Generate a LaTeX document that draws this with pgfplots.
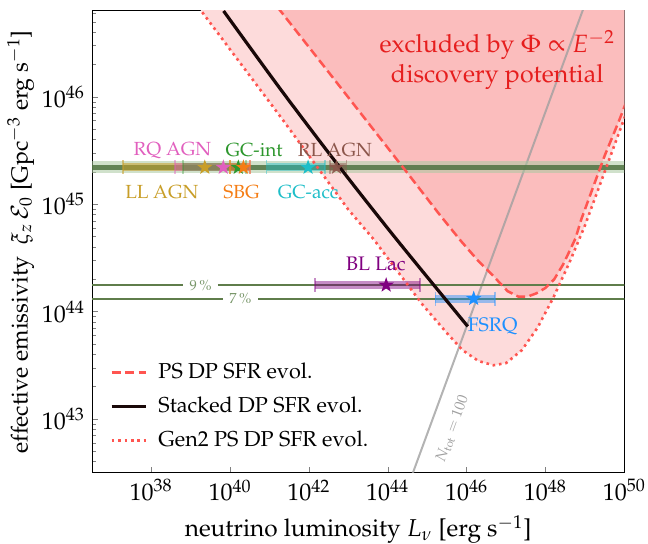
\documentclass[border=0pt]{standalone}
\usepackage[T1]{fontenc}
\usepackage{mathpazo}
\usepackage{pgfplots}
\pgfplotsset{compat=1.18}
\definecolor{dpred}{RGB}{255,85,80}
\definecolor{lightfill}{RGB}{253,219,219}
\definecolor{darkfill}{RGB}{251,189,189}
\definecolor{txtred}{RGB}{230,30,30}
\definecolor{bandgreen}{RGB}{80,115,65}
\definecolor{bandlight}{RGB}{170,200,160}
\definecolor{linegreen}{RGB}{95,125,75}
\definecolor{pcttext}{RGB}{120,150,105}
\definecolor{llagn}{RGB}{200,158,40}
\definecolor{rqagn}{RGB}{225,95,190}
\definecolor{gcint}{RGB}{44,150,44}
\definecolor{sbg}{RGB}{245,125,20}
\definecolor{gcacc}{RGB}{30,190,200}
\definecolor{rlagn}{RGB}{140,86,75}
\definecolor{bllac}{RGB}{128,0,128}
\definecolor{fsrq}{RGB}{30,144,255}
\definecolor{stackblack}{RGB}{25,8,8}
\definecolor{ntotgray}{RGB}{160,160,160}
\pgfdeclareplotmark{fstar}{%
 \pgfpathmoveto{\pgfpointpolar{90}{\pgfplotmarksize}}%
 \pgfpathlineto{\pgfpointpolar{126}{0.4\pgfplotmarksize}}%
 \pgfpathlineto{\pgfpointpolar{162}{\pgfplotmarksize}}%
 \pgfpathlineto{\pgfpointpolar{198}{0.4\pgfplotmarksize}}%
 \pgfpathlineto{\pgfpointpolar{234}{\pgfplotmarksize}}%
 \pgfpathlineto{\pgfpointpolar{270}{0.4\pgfplotmarksize}}%
 \pgfpathlineto{\pgfpointpolar{306}{\pgfplotmarksize}}%
 \pgfpathlineto{\pgfpointpolar{342}{0.4\pgfplotmarksize}}%
 \pgfpathlineto{\pgfpointpolar{18}{\pgfplotmarksize}}%
 \pgfpathlineto{\pgfpointpolar{54}{0.4\pgfplotmarksize}}%
 \pgfpathclose\pgfusepathqfill}
\begin{document}
\begin{tikzpicture}
\useasboundingbox (-46pt,-35.65pt) rectangle (278pt,236.35pt);
\begin{axis}[
 at={(0,0)}, anchor=south west,
 scale only axis, width=266.15pt, height=230.85pt,
 xmode=log, ymode=log,
 xmin=3.162e36, xmax=1e50, ymin=3.162e42, ymax=6.310e46,
 xtick={1e38,1e40,1e42,1e44,1e46,1e48,1e50},
 xminorticks=false,
 tick pos=left, tick align=inside,
 major tick length=3pt, minor tick length=1.8pt,
 axis line style={line width=0.5pt},
 tick label style={font=\fontsize{12}{14}\selectfont},
 xlabel style={font=\fontsize{12.2}{14}\selectfont},
 ylabel style={font=\fontsize{11.6}{14}\selectfont},
 ylabel shift=-3pt,
 xlabel={neutrino luminosity $L_\nu$ [erg s$^{-1}$]},
 ylabel={effective emissivity \ $\xi_z\,\mathcal{E}_0$ [Gpc$^{-3}$ erg s$^{-1}$]},
 legend style={at={(0.022,0.255)}, anchor=north west, draw=none, fill=none,
   font=\fontsize{10.8}{12}\selectfont, row sep=3.6pt,
   nodes={inner xsep=5.5pt}},
 legend cell align=left,
]
\addlegendimage{dpred, line width=1.25pt, dash pattern=on 4.5pt off 2.2pt}
\addlegendentry{PS DP SFR evol.}
\addlegendimage{stackblack, line width=1.6pt}
\addlegendentry{Stacked DP SFR evol.}
\addlegendimage{dpred, line width=1.3pt, dash pattern=on 1.3pt off 1.9pt}
\addlegendentry{Gen2 PS DP SFR evol.}

% Gen2 region (light)
\addplot[draw=none, fill=lightfill, forget plot] coordinates {
(1.000e39,8.511e46) (1.862e39,6.310e46) (2.138e41,6.166e45) (1.000e43,8.913e44)
(4.467e43,4.677e44) (7.413e44,1.175e44) (3.162e45,6.310e43) (7.943e45,4.365e43)
(1.995e46,3.467e43) (4.786e46,3.162e43) (1.000e47,3.311e43) (2.512e47,4.365e43)
(6.310e47,7.079e43) (1.585e48,1.349e44) (3.981e48,2.818e44) (1.000e49,6.310e44)
(2.512e49,1.585e45) (6.310e49,3.981e45) (1.585e50,1.000e46)
(1.585e50,1e47) (1e39,1e47)} -- cycle;
% PS region (darker)
\addplot[draw=none, fill=darkfill, forget plot] coordinates {
(1.000e41,8.511e46) (1.905e41,6.310e46) (3.162e42,1.698e46) (3.162e43,5.754e45)
(3.162e44,1.950e45) (1.995e45,8.128e44) (7.079e45,4.571e44) (1.995e46,2.951e44)
(4.786e46,2.138e44) (1.096e47,1.549e44) (2.042e47,1.380e44) (3.548e47,1.380e44)
(5.888e47,1.479e44) (1.000e48,1.660e44) (1.660e48,1.995e44) (2.818e48,2.754e44)
(3.802e48,3.467e44) (5.754e48,4.786e44) (8.128e48,7.244e44) (1.585e49,1.413e45)
(3.162e49,2.818e45) (7.586e49,6.166e45) (1.259e50,1.000e46)
(1.259e50,1e47) (1e41,1e47)} -- cycle;

% N_tot = 100
\addplot[ntotgray, line width=1pt, opacity=0.8, forget plot] coordinates {
(1.995e44,1.445e42) (1.585e49,1.148e47)};

% diffuse band
\addplot[draw=none, fill=bandlight, opacity=0.55, forget plot] coordinates {
(1e36,1.95e45) (1e51,1.95e45) (1e51,2.51e45) (1e36,2.51e45)} -- cycle;
\addplot[bandgreen, line width=2.2pt, opacity=0.85, forget plot] coordinates {(1e36,2.2e45) (1e51,2.2e45)};

% 9% and 7% lines
\addplot[linegreen, line width=1pt, forget plot] coordinates {(1e36,1.76e44) (6.607e38,1.76e44)};
\addplot[linegreen, line width=1pt, forget plot] coordinates {(4.898e39,1.76e44) (1e51,1.76e44)};
\addplot[linegreen, line width=1pt, forget plot] coordinates {(1e36,1.32e44) (6.607e39,1.32e44)};
\addplot[linegreen, line width=1pt, forget plot] coordinates {(5.129e40,1.32e44) (1e51,1.32e44)};

% error bars
\addplot[llagn, opacity=0.55, line width=4pt, mark=|, mark size=3.5pt, mark options={line width=0.8pt}, forget plot] coordinates {(1.95e37,2.2e45) (1.0e40,2.2e45)};
\addplot[rqagn, opacity=0.45, line width=4pt, mark=|, mark size=3.5pt, mark options={line width=0.8pt}, forget plot] coordinates {(3.98e38,2.2e45) (3.16e40,2.2e45)};
\addplot[gcint, opacity=0.35, line width=4pt, mark=|, mark size=3.5pt, mark options={line width=0.8pt}, forget plot] coordinates {(6.46e38,2.2e45) (2.5e40,2.2e45)};
\addplot[sbg, opacity=0.45, line width=4pt, mark=|, mark size=3.5pt, mark options={line width=0.8pt}, forget plot] coordinates {(1.0e40,2.2e45) (3.16e40,2.2e45)};
\addplot[gcacc, opacity=0.45, line width=4pt, mark=|, mark size=3.5pt, mark options={line width=0.8pt}, forget plot] coordinates {(8.51e40,2.2e45) (2.57e42,2.2e45)};
\addplot[rlagn, opacity=0.45, line width=4pt, mark=|, mark size=3.5pt, mark options={line width=0.8pt}, forget plot] coordinates {(3.39e42,2.2e45) (8.9e42,2.2e45)};
\addplot[bllac, opacity=0.45, line width=4pt, mark=|, mark size=3.5pt, mark options={line width=0.8pt}, forget plot] coordinates {(1.413e42,1.76e44) (6.607e44,1.76e44)};
\addplot[fsrq, opacity=0.45, line width=4pt, mark=|, mark size=3.5pt, mark options={line width=0.8pt}, forget plot] coordinates {(1.622e45,1.32e44) (5.248e46,1.32e44)};

% stars
\addplot[only marks, mark=fstar, mark size=4pt, llagn, forget plot] coordinates {(2.291e39,2.2e45)};
\addplot[only marks, mark=fstar, mark size=4pt, rqagn, forget plot] coordinates {(6.761e39,2.2e45)};
\addplot[only marks, mark=fstar, mark size=4pt, gcint, forget plot] coordinates {(1.622e40,2.2e45)};
\addplot[only marks, mark=fstar, mark size=4pt, sbg, forget plot] coordinates {(2.188e40,2.2e45)};
\addplot[only marks, mark=fstar, mark size=4pt, gcacc, forget plot] coordinates {(9.55e41,2.2e45)};
\addplot[only marks, mark=fstar, mark size=4pt, rlagn, opacity=0.9, forget plot] coordinates {(5.012e42,2.2e45)};
\addplot[only marks, mark=fstar, mark size=4pt, bllac, forget plot] coordinates {(9.12e43,1.76e44)};
\addplot[only marks, mark=fstar, mark size=4pt, fsrq, forget plot] coordinates {(1.514e46,1.32e44)};

% PS DP dashed
\addplot[dpred, line width=1.25pt, dash pattern=on 4.5pt off 2.2pt, forget plot] coordinates {
(1.000e41,8.511e46) (1.905e41,6.310e46) (3.162e42,1.698e46) (3.162e43,5.754e45)
(3.162e44,1.950e45) (1.995e45,8.128e44) (7.079e45,4.571e44) (1.995e46,2.951e44)
(4.786e46,2.138e44) (1.096e47,1.549e44) (2.042e47,1.380e44) (3.548e47,1.380e44)
(5.888e47,1.479e44) (1.000e48,1.660e44) (1.660e48,1.995e44) (2.818e48,2.754e44)
(3.802e48,3.467e44) (5.754e48,4.786e44) (8.128e48,7.244e44) (1.585e49,1.413e45)
(3.162e49,2.818e45) (7.586e49,6.166e45) (1.259e50,1.000e46)};
% Gen2 dotted
\addplot[dpred, line width=1.3pt, dash pattern=on 1.3pt off 1.9pt, forget plot] coordinates {
(1.000e39,8.511e46) (1.862e39,6.310e46) (2.138e41,6.166e45) (1.000e43,8.913e44)
(4.467e43,4.677e44) (7.413e44,1.175e44) (3.162e45,6.310e43) (7.943e45,4.365e43)
(1.995e46,3.467e43) (4.786e46,3.162e43) (1.000e47,3.311e43) (2.512e47,4.365e43)
(6.310e47,7.079e43) (1.585e48,1.349e44) (3.981e48,2.818e44) (1.000e49,6.310e44)
(2.512e49,1.585e45) (6.310e49,3.981e45) (1.585e50,1.000e46)};
% Stacked
\addplot[stackblack, line width=1.6pt, smooth, tension=0.5, forget plot] coordinates {
(6.855e39,6.310e46) (1.963e41,1.161e46) (6.109e42,2.198e45) (1.694e44,4.677e44) (1.069e46,7.278e43)};

% texts
\node[txtred, align=center, font=\fontsize{12.5}{15}\selectfont] at (axis cs:6.0e46,2.188e46) {excluded by $\Phi\propto E^{-2}$\\discovery potential};
\node[rqagn, font=\fontsize{9.5}{10}\selectfont] at (axis cs:3.467e38,3.16e45) {RQ AGN};
\node[gcint, font=\fontsize{9.5}{10}\selectfont] at (axis cs:4.07e40,3.16e45) {GC-int};
\node[rlagn, font=\fontsize{9.5}{10}\selectfont] at (axis cs:4.571e42,3.16e45) {RL AGN};
\node[llagn, font=\fontsize{9.5}{10}\selectfont] at (axis cs:1.862e38,1.288e45) {LL AGN};
\node[sbg, font=\fontsize{9.5}{10}\selectfont] at (axis cs:1.95e40,1.288e45) {SBG};
\node[gcacc, font=\fontsize{9.5}{10}\selectfont] at (axis cs:9.55e41,1.288e45) {GC-acc};
\node[bllac, font=\fontsize{9.8}{10}\selectfont] at (axis cs:5.0e43,2.754e44) {BL Lac};
\node[fsrq, font=\fontsize{9.8}{10}\selectfont] at (axis cs:4.571e46,7.244e43) {FSRQ};
\node[pcttext, font=\fontsize{7.3}{8}\selectfont] at (axis cs:1.80e39,1.76e44) {9\,\%};
\node[pcttext, font=\fontsize{7.3}{8}\selectfont] at (axis cs:1.84e40,1.32e44) {7\,\%};
\node[ntotgray, rotate=69.85, font=\fontsize{7.5}{8}\selectfont] at (axis cs:4.365e45,8.128e42) {$N_{\mathrm{tot}}=100$};
\end{axis}
\end{tikzpicture}
\end{document}
